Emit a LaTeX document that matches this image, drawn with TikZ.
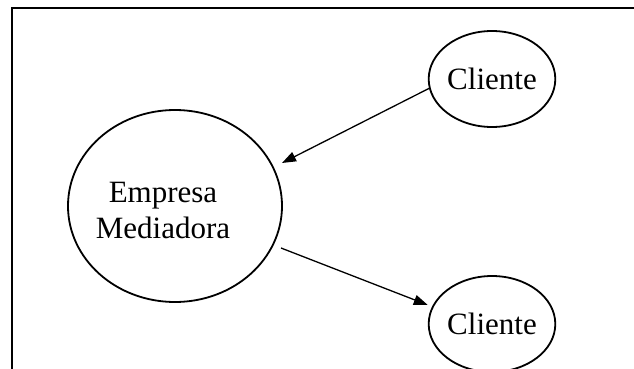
\documentclass[tikz,border=0pt]{standalone}
\usepackage{fontspec}
\setmainfont{Liberation Serif}
\usetikzlibrary{shapes.geometric,arrows.meta}
\begin{document}
\begin{tikzpicture}[x=1pt,y=-1pt,
  bubble/.style={draw,ellipse,line width=1.8pt,inner sep=0pt},
  flow/.style={line width=1.3pt,-{Triangle[length=14pt,width=10pt]}},
  txt/.style={font=\fontsize{31}{36}\selectfont}]
  \useasboundingbox (0,0) rectangle (634,369);
  \begin{scope}
    \clip (0,0) rectangle (634,369);
    % open frame: top and left edges only
    \draw[line width=1.5pt] (634,8) -- (12,8) -- (12,369);
    % nodes
    \node[bubble,minimum width=214pt,minimum height=192pt,
      label={[txt,align=center,xshift=-12pt,yshift=-4pt]center:Empresa\\Mediadora}]
      (emp) at (175,206) {};
    \node[bubble,txt,minimum width=116pt,minimum height=96pt] (c1) at (492,79) {Cliente};
    \node[bubble,txt,minimum width=116pt,minimum height=96pt] (c2) at (492,324) {Cliente};
    % arrow ends that stop short of the central ellipse
    \coordinate (in1) at (282,163);
    \coordinate (out1) at (281,248);
    \draw[flow] (c1.west |- 0,88) ++(2,0) coordinate (s1) (s1) -- (in1);
    \draw[flow] (out1) -- (c2.west |- 0,305) ;
  \end{scope}
\end{tikzpicture}
\end{document}
